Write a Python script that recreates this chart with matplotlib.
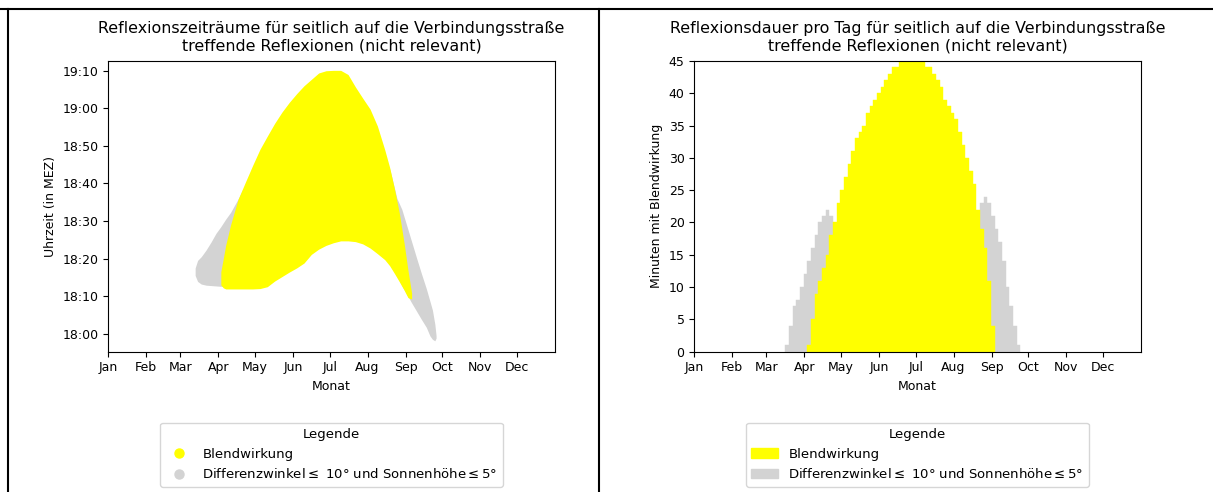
import matplotlib
matplotlib.use("Agg")
import matplotlib.pyplot as plt
from matplotlib.lines import Line2D
from matplotlib.patches import Patch

months = ['Jan', 'Feb', 'Mar', 'Apr', 'May', 'Jun', 'Jul', 'Aug', 'Sep', 'Oct', 'Nov', 'Dec']
month_start = [0, 31, 59, 90, 120, 151, 181, 212, 243, 273, 304, 334]

# left chart: start/end of reflection (minutes after 18:00 MEZ) per day of year
yellow_days = [92, 94, 96, 100, 106, 112, 118, 124, 130, 136, 142, 148, 154, 160, 166,
               172, 178, 184, 190, 196, 202, 208, 214, 220, 226, 230, 234, 238, 242, 245, 248]
yellow_start = [13.0, 12.2, 11.9, 11.9, 11.9, 11.9, 11.9, 12.0, 12.5, 14.0, 15.2, 16.4, 17.5, 18.8, 21.1,
                22.5, 23.5, 24.2, 24.7, 24.7, 24.5, 23.9, 22.8, 21.3, 19.7, 18.1, 16.0, 13.8, 11.5, 9.6, 9.2]
yellow_end = [16.5, 20.0, 23.6, 29.0, 35.7, 40.3, 44.8, 49.1, 52.6, 56.0, 59.0, 61.6, 63.9, 66.0, 67.7,
              69.4, 70.0, 70.1, 70.1, 69.0, 65.7, 62.7, 59.8, 55.3, 49.0, 44.3, 38.5, 32.0, 23.8, 16.9, 10.8]

grey_a_days = [71, 73, 76, 80, 84, 88, 92, 96, 100, 106, 110]
grey_a_start = [15.5, 13.9, 13.2, 12.9, 12.8, 12.7, 12.6, 12.5, 12.5, 12.5, 12.5]
grey_a_end = [17.5, 19.5, 20.5, 22.3, 24.4, 26.7, 28.5, 30.5, 32.3, 35.8, 38.5]

grey_b_days = [230, 236, 240, 244, 248, 252, 256, 260, 263, 265, 267, 268]
grey_b_start = [18.5, 15.5, 12.8, 10.5, 8.2, 6.0, 3.8, 1.7, -0.6, -1.5, -1.9, -1.2]
grey_b_end = [44.0, 36.0, 33.1, 28.8, 24.5, 20.2, 16.0, 12.0, 8.6, 6.3, 2.5, -0.5]

time_ticks = [0, 10, 20, 30, 40, 50, 60, 70]
time_labels = ['18:00', '18:10', '18:20', '18:30', '18:40', '18:50', '19:00', '19:10']

# right chart: minutes per day
dur_days = [94, 97, 100, 103, 106, 109, 112, 115, 118, 121, 124, 127, 130, 133, 136, 139, 142,
            145, 148, 151, 154, 157, 160, 163, 166, 169, 172, 175, 178, 181, 184, 187, 190, 193,
            196, 199, 202, 205, 208, 211, 214, 217, 220, 223, 226, 229, 232, 235, 238, 241, 244]
dur_yellow = [1, 5, 9, 11, 13, 15, 18, 20, 23, 25, 27, 29, 31, 33, 34, 35, 37,
              38, 39, 40, 41, 42, 43, 44, 44, 45, 45, 45, 45, 45, 45, 45, 44, 44,
              43, 42, 41, 39, 38, 37, 36, 34, 32, 30, 28, 26, 22, 19, 16, 11, 4]
grey_l_days = [76, 79, 82, 85, 88, 91, 94, 97, 100, 103, 106, 109, 112]
dur_grey_l = [1, 4, 7, 8, 10, 12, 14, 16, 18, 20, 21, 22, 21]
grey_r_days = [235, 238, 241, 244, 247, 250, 253, 256, 259, 262, 265]
dur_grey_r = [23, 24, 23, 21, 19, 17, 14, 10, 7, 4, 1]

YELLOW = '#ffff00'
GREY = 'lightgrey'
legend_labels = ['Blendwirkung', r'Differenzwinkel$\leq$ 10° und Sonnenhöhe$\leq$5°']

plt.rcParams['font.size'] = 9

fig = plt.figure(figsize=(12.13, 4.92), dpi=100)
ax1 = fig.add_axes([0.0893, 0.2852, 0.3680, 0.5909])
ax2 = fig.add_axes([0.5724, 0.2852, 0.3680, 0.5909])

# left: time windows
ax1.fill_between(grey_a_days, grey_a_start, grey_a_end, color=GREY, lw=0)
ax1.fill_between(grey_b_days, grey_b_start, grey_b_end, color=GREY, lw=0)
ax1.fill_between(yellow_days, yellow_start, yellow_end, color=YELLOW, lw=0)
ax1.set_ylim(-4.8, 72.6)
ax1.set_yticks(time_ticks)
ax1.set_yticklabels(time_labels)
ax1.set_ylabel('Uhrzeit (in MEZ)')
ax1.set_title('Reflexionszeiträume für seitlich auf die Verbindungsstraße\ntreffende Reflexionen (nicht relevant)',
              fontsize=11.4, pad=7.5)
h1 = [Line2D([], [], marker='o', ls='', color=YELLOW, markersize=6.5),
      Line2D([], [], marker='o', ls='', color=GREY, markersize=6.5)]
ax1.legend(h1, legend_labels, title='Legende', loc='upper center', bbox_to_anchor=(0.5, -0.222),
           fontsize=9.5, title_fontsize=9.5)

# right: duration per day
ax2.bar(grey_l_days, dur_grey_l, width=3, color=GREY, edgecolor=GREY, lw=0.3)
ax2.bar(grey_r_days, dur_grey_r, width=3, color=GREY, edgecolor=GREY, lw=0.3)
ax2.bar(dur_days, dur_yellow, width=3, color=YELLOW, edgecolor=YELLOW, lw=0.3)
ax2.set_ylim(0, 45)
ax2.set_yticks(range(0, 46, 5))
ax2.set_ylabel('Minuten mit Blendwirkung')
ax2.set_title('Reflexionsdauer pro Tag für seitlich auf die Verbindungsstraße\ntreffende Reflexionen (nicht relevant)',
              fontsize=11.4, pad=7.5)
h2 = [Patch(color=YELLOW), Patch(color=GREY)]
ax2.legend(h2, legend_labels, title='Legende', loc='upper center', bbox_to_anchor=(0.5, -0.222),
           fontsize=9.5, title_fontsize=9.5)

for ax in (ax1, ax2):
    ax.set_xlim(0, 365)
    ax.set_xticks(month_start)
    ax.set_xticklabels(months)
    ax.set_xlabel('Monat')

# table borders around the two figures
fig.add_artist(Line2D([0, 1], [0.9817, 0.9817], transform=fig.transFigure, color='black', lw=1.5))
fig.add_artist(Line2D([0.0066, 0.0066], [0, 0.9817], transform=fig.transFigure, color='black', lw=1.5))
fig.add_artist(Line2D([0.4938, 0.4938], [0, 0.9817], transform=fig.transFigure, color='black', lw=1.5))

fig.savefig('out.png', dpi=100)
